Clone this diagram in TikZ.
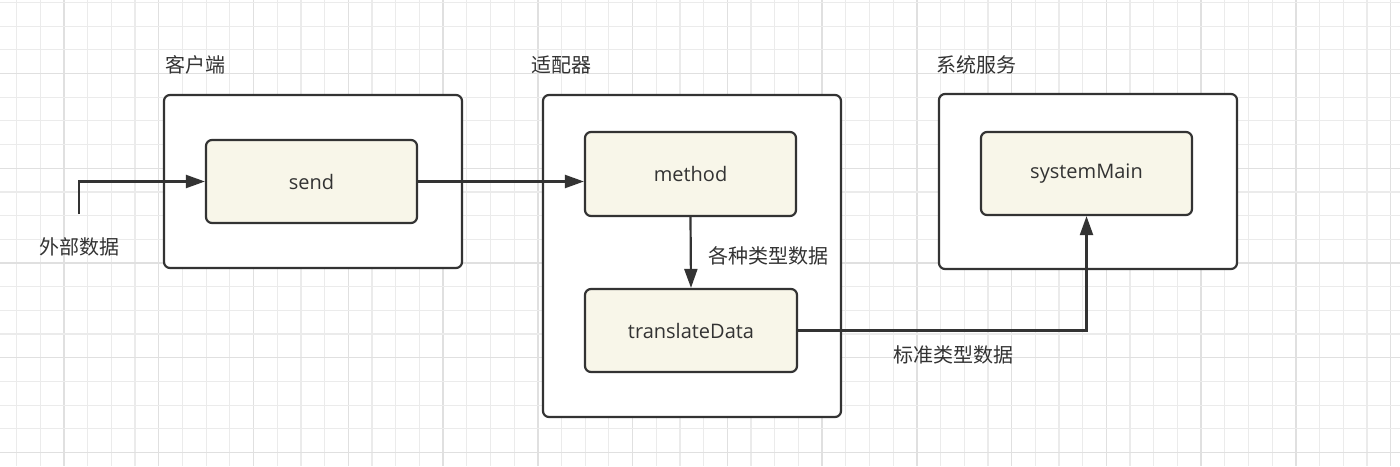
\documentclass[tikz,border=0pt]{standalone}
\usepackage{fontspec}
\setmainfont{Open Sans}
\newfontfamily\cjk{Noto Sans CJK SC}
\usetikzlibrary{arrows.meta}
\definecolor{ink}{HTML}{333333}
\definecolor{cream}{HTML}{F8F6E9}
\definecolor{gridminor}{HTML}{EBEBEB}
\definecolor{gridmajor}{HTML}{E0E0E0}
\tikzset{
  outerbox/.style={draw=ink, line width=2.2pt, rounded corners=6pt, fill=white},
  innerbox/.style={draw=ink, line width=2.2pt, rounded corners=6pt, fill=cream, font=\fontsize{20}{24}\selectfont, text=ink},
  grouplabel/.style={font=\cjk\fontsize{20}{24}\selectfont, text=ink, anchor=west, inner sep=0pt},
  edgelabel/.style={font=\cjk\fontsize{20}{24}\selectfont, text=ink, anchor=west, inner sep=0pt},
  conn/.style={draw=ink, line width=2.2pt, -{Triangle[length=19pt,width=13pt]}},
}
\begin{document}
\begin{tikzpicture}[x=1pt,y=-1pt]
\useasboundingbox (0,0) rectangle (1400,466);
\fill[white] (0,0) rectangle (1400,466);
% grid
\foreach \i in {0,...,58}{
  \pgfmathsetmacro{\xx}{16.62+\i*23.69}
  \pgfmathtruncatemacro{\m}{mod(\i,4)}
  \ifnum\m=2 \draw[gridmajor,line width=1.4pt] (\xx,0) -- (\xx,466);
  \else \draw[gridminor,line width=1.2pt] (\xx,0) -- (\xx,466); \fi
}
\foreach \j in {0,...,19}{
  \pgfmathsetmacro{\yy}{2.43+\j*23.69}
  \pgfmathtruncatemacro{\m}{mod(\j,4)}
  \ifnum\m=3 \draw[gridmajor,line width=1.4pt] (0,\yy) -- (1400,\yy);
  \else \draw[gridminor,line width=1.2pt] (0,\yy) -- (1400,\yy); \fi
}
% outer boxes
\node[outerbox, minimum width=298pt, minimum height=173pt] (client) at (313,181.5) {};
\node[outerbox, minimum width=298pt, minimum height=322pt] (adapter) at (692,256) {};
\node[outerbox, minimum width=298pt, minimum height=175pt] (system) at (1088,181.5) {};
% group labels
\node[grouplabel] (clientlbl) at (165,65) {客户端};
\node[grouplabel] (adapterlbl) at (531,65) {适配器};
\node[grouplabel] (systemlbl) at (936,65) {系统服务};
% inner boxes
\node[innerbox, minimum width=211pt, minimum height=83pt] (send) at (311.5,181.5) {send};
\node[innerbox, minimum width=211pt, minimum height=84pt] (method) at (690.5,174) {method};
\node[innerbox, minimum width=212pt, minimum height=83pt] (translate) at (691,330.5) {translateData};
\node[innerbox, minimum width=211pt, minimum height=83pt] (sysmain) at (1086.5,173.5) {systemMain};
% external label
\node[edgelabel] (ext) at (39,247) {外部数据};
\coordinate (extstart) at (79,214);
% connectors
\draw[conn] (extstart) |- (send.west);
\draw[conn] (send.east) -- (method.west |- send.east);
\draw[conn] (method.south) -- (translate.north);
\draw[conn] (translate.east) -| (sysmain.south);
% edge labels
\node[edgelabel] (lbl1) at (708,256) {各种类型数据};
\node[edgelabel] (lbl2) at (893,355) {标准类型数据};
\end{tikzpicture}
\end{document}
